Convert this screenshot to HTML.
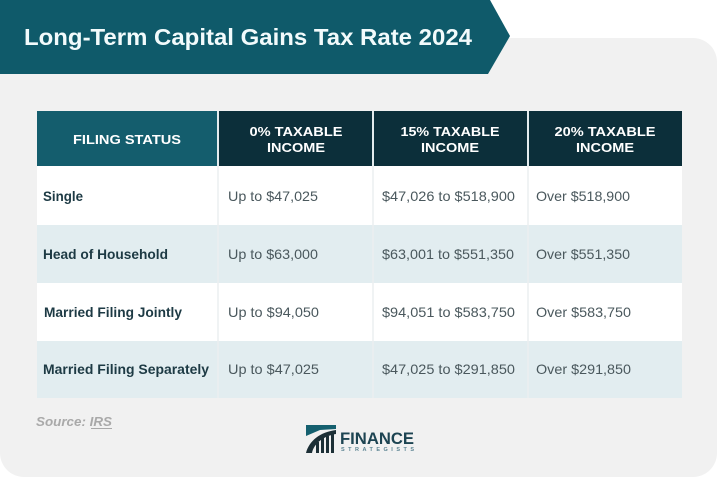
<!DOCTYPE html>
<html><head><meta charset="utf-8"><style>
html,body{margin:0;padding:0;background:#fff;width:720px;height:480px;overflow:hidden}
svg{display:block}
text{font-family:"Liberation Sans",Arial,sans-serif}
</style></head><body>
<svg width="720" height="480" viewBox="0 0 720 480" xmlns="http://www.w3.org/2000/svg">
<rect x="0" y="0" width="720" height="480" fill="#ffffff"/>
<rect x="0" y="38" width="717" height="439" rx="24" ry="24" fill="#f1f1f1"/>
<polygon points="0,0 490,0 510,36 488,74 0,74" fill="#0f5a6a"/>
<text x="24" y="45" font-size="23" font-weight="bold" fill="#f2fbfc" textLength="448" lengthAdjust="spacingAndGlyphs">Long-Term Capital Gains Tax Rate 2024</text>

<!-- header -->
<rect x="37" y="111" width="645" height="55" fill="#e4ecee"/>
<rect x="37" y="111" width="180" height="55" fill="#145d6d"/>
<rect x="219" y="111" width="153" height="55" fill="#0c2f3a"/>
<rect x="374" y="111" width="153" height="55" fill="#0c2f3a"/>
<rect x="529" y="111" width="153" height="55" fill="#0c2f3a"/>
<g font-size="13" font-weight="bold" fill="#ffffff" text-anchor="middle">
<text x="127" y="144" textLength="108" lengthAdjust="spacingAndGlyphs">FILING STATUS</text>
<text x="296" y="136" textLength="93" lengthAdjust="spacingAndGlyphs">0% TAXABLE</text>
<text x="296" y="152" textLength="58" lengthAdjust="spacingAndGlyphs">INCOME</text>
<text x="450" y="136" textLength="99" lengthAdjust="spacingAndGlyphs">15% TAXABLE</text>
<text x="450" y="152" textLength="58" lengthAdjust="spacingAndGlyphs">INCOME</text>
<text x="605" y="136" textLength="101" lengthAdjust="spacingAndGlyphs">20% TAXABLE</text>
<text x="605" y="152" textLength="58" lengthAdjust="spacingAndGlyphs">INCOME</text>
</g>

<!-- rows -->
<rect x="37" y="166" width="645" height="59" fill="#ffffff"/>
<rect x="37" y="225" width="645" height="58" fill="#e2edf0"/>
<rect x="37" y="283" width="645" height="58" fill="#ffffff"/>
<rect x="37" y="341" width="645" height="57" fill="#e2edf0"/>
<g stroke="#ebeff0" stroke-width="1.5">
<line x1="218" y1="166" x2="218" y2="398"/>
<line x1="373" y1="166" x2="373" y2="398"/>
<line x1="528" y1="166" x2="528" y2="398"/>
</g>

<g font-size="14" font-weight="bold" fill="#1d3a44">
<text x="43" y="201" textLength="40" lengthAdjust="spacingAndGlyphs">Single</text>
<text x="43" y="259" textLength="125" lengthAdjust="spacingAndGlyphs">Head of Household</text>
<text x="44" y="317" textLength="138" lengthAdjust="spacingAndGlyphs">Married Filing Jointly</text>
<text x="43" y="374" textLength="166" lengthAdjust="spacingAndGlyphs">Married Filing Separately</text>
</g>
<g font-size="14" fill="#4a585d">
<text x="228" y="201" textLength="90" lengthAdjust="spacingAndGlyphs">Up to $47,025</text>
<text x="382" y="201" textLength="133" lengthAdjust="spacingAndGlyphs">$47,026 to $518,900</text>
<text x="536" y="201" textLength="94" lengthAdjust="spacingAndGlyphs">Over $518,900</text>

<text x="228" y="259" textLength="90" lengthAdjust="spacingAndGlyphs">Up to $63,000</text>
<text x="382" y="259" textLength="132" lengthAdjust="spacingAndGlyphs">$63,001 to $551,350</text>
<text x="536" y="259" textLength="94" lengthAdjust="spacingAndGlyphs">Over $551,350</text>

<text x="228" y="317" textLength="91" lengthAdjust="spacingAndGlyphs">Up to $94,050</text>
<text x="382" y="317" textLength="133" lengthAdjust="spacingAndGlyphs">$94,051 to $583,750</text>
<text x="536" y="317" textLength="95" lengthAdjust="spacingAndGlyphs">Over $583,750</text>

<text x="228" y="374" textLength="91" lengthAdjust="spacingAndGlyphs">Up to $47,025</text>
<text x="382" y="374" textLength="133" lengthAdjust="spacingAndGlyphs">$47,025 to $291,850</text>
<text x="536" y="374" textLength="95" lengthAdjust="spacingAndGlyphs">Over $291,850</text>
</g>

<!-- source -->
<text x="36" y="426" font-size="12.5" font-weight="bold" font-style="italic" fill="#a9a9a9" textLength="76" lengthAdjust="spacingAndGlyphs">Source: IRS</text>
<line x1="91" y1="428.5" x2="112" y2="428.5" stroke="#a9a9a9" stroke-width="1"/>

<!-- logo -->
<polygon points="306,425 336,425 336,429 320,430 306,436" fill="#15606f"/>
<path d="M306,453 C309,441 320,432 336,430 L336,434 C324,436 314,443 312,453 Z" fill="#1c2f36"/>
<rect x="316" y="442" width="3" height="11" fill="#1c2f36"/>
<rect x="321" y="438" width="3" height="15" fill="#1c2f36"/>
<rect x="326" y="436" width="3" height="17" fill="#1c2f36"/>
<rect x="331" y="434" width="3" height="19" fill="#1c2f36"/>
<text x="340" y="444" font-size="17" font-weight="bold" fill="#1d4452" textLength="74" lengthAdjust="spacingAndGlyphs">FINANCE</text>
<text x="341" y="451" font-size="5.5" font-weight="bold" fill="#5d8593" textLength="73" lengthAdjust="spacing">STRATEGISTS</text>
</svg>
</body></html>
